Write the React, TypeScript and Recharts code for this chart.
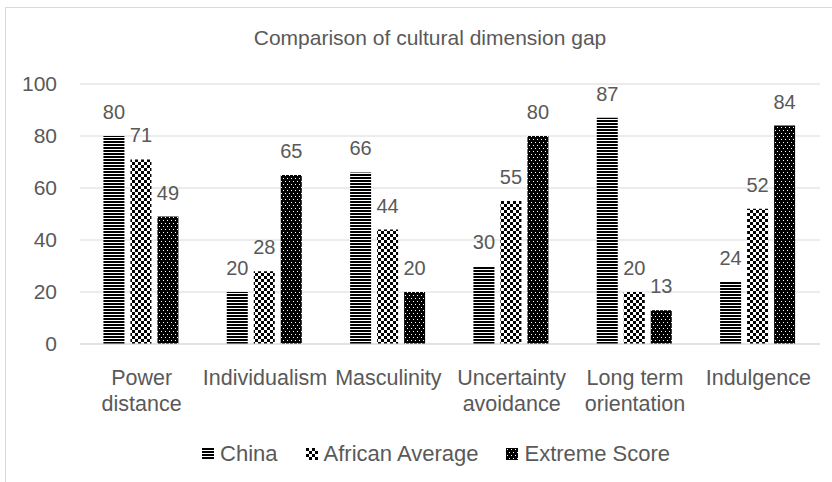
import React from 'react';
import { BarChart, Bar, XAxis, YAxis, CartesianGrid, LabelList } from 'recharts';

const categories = ['Power distance', 'Individualism', 'Masculinity', 'Uncertainty avoidance', 'Long term orientation', 'Indulgence'];
const tickLines = [['Power', 'distance'], ['Individualism'], ['Masculinity'], ['Uncertainty', 'avoidance'], ['Long term', 'orientation'], ['Indulgence']];
const china = [80, 20, 66, 30, 87, 24];
const africanAverage = [71, 28, 44, 55, 20, 52];
const extremeScore = [49, 65, 20, 80, 13, 84];
const yTicks = [0, 20, 40, 60, 80, 100];
const seriesNames = ['China', 'African Average', 'Extreme Score'];

const data = categories.map((name, i) => ({
  name,
  china: china[i],
  african: africanAverage[i],
  extreme: extremeScore[i],
}));

const TEXT = '#595959';
const GRID = '#d9d9d9';
const FONT = "'Liberation Sans', Arial, sans-serif";

const patternIds = ['pat-china', 'pat-african', 'pat-extreme'];

function CategoryTick(props: any) {
  const { x, y, payload } = props;
  const idx = categories.indexOf(payload.value);
  const lines = idx >= 0 ? tickLines[idx] : [payload.value];
  return (
    <text x={x} y={y + 41} textAnchor="middle" fill={TEXT} fontSize={21.5}>
      {lines.map((l, i) => (
        <tspan key={i} x={x} dy={i === 0 ? 0 : 26}>{l}</tspan>
      ))}
    </text>
  );
}

export default function App() {
  return (
    <div style={{ position: 'absolute', left: 0, top: 0, width: 832, height: 482, overflow: 'hidden', fontFamily: FONT, background: '#fff' }}>
      <div style={{ position: 'absolute', left: 5, top: 7, width: 900, height: 600, border: `1px solid ${GRID}` }} />
      <div style={{ position: 'absolute', left: 0, top: 26, width: 860, textAlign: 'center', fontSize: 21, color: TEXT }}>
        Comparison of cultural dimension gap
      </div>
      <div style={{ position: 'absolute', left: 0, top: 0 }}>
        <BarChart width={832} height={482} data={data} margin={{ top: 84, right: 12, left: 8, bottom: 68 }}
          barCategoryGap="19%" barGap={6}>
          <defs>
            <pattern id="pat-china" width={4} height={3} patternUnits="userSpaceOnUse">
              <rect x={0} y={0} width={4} height={3} fill="#fff" />
              <rect x={0} y={0} width={4} height={2} fill="#000" />
            </pattern>
            <pattern id="pat-african" width={6} height={6} patternUnits="userSpaceOnUse">
              <rect x={0} y={0} width={6} height={6} fill="#fff" />
              <rect x={0} y={0} width={3} height={3} fill="#000" />
              <rect x={3} y={3} width={3} height={3} fill="#000" />
            </pattern>
            <pattern id="pat-extreme" width={4} height={6} patternUnits="userSpaceOnUse">
              <rect x={0} y={0} width={4} height={6} fill="#000" />
              <rect x={1} y={1} width={1} height={1} fill="#fff" />
              <rect x={3} y={4} width={1} height={1} fill="#fff" />
            </pattern>
          </defs>
          <CartesianGrid vertical={false} stroke={GRID} />
          <XAxis dataKey="name" axisLine={{ stroke: GRID }} tickLine={false} tickSize={0} tickMargin={0}
            height={70} interval={0} tick={<CategoryTick />} />
          <YAxis domain={[0, 100]} ticks={yTicks} axisLine={false} tickLine={false} tickSize={0} tickMargin={23}
            width={72} tick={{ fill: TEXT, fontSize: 21 }} />
          <Bar dataKey="china" name={seriesNames[0]} fill="url(#pat-china)" isAnimationActive={false}>
            <LabelList dataKey="china" position="top" offset={17} fill={TEXT} fontSize={20} />
          </Bar>
          <Bar dataKey="african" name={seriesNames[1]} fill="url(#pat-african)" isAnimationActive={false}>
            <LabelList dataKey="african" position="top" offset={17} fill={TEXT} fontSize={20} />
          </Bar>
          <Bar dataKey="extreme" name={seriesNames[2]} fill="url(#pat-extreme)" isAnimationActive={false}>
            <LabelList dataKey="extreme" position="top" offset={17} fill={TEXT} fontSize={20} />
          </Bar>
        </BarChart>
      </div>
      <div style={{ position: 'absolute', left: 0, top: 441, width: 872, display: 'flex', justifyContent: 'center', gap: 28, fontSize: 22, color: TEXT }}>
        {seriesNames.map((n, i) => (
          <div key={n} style={{ display: 'flex', alignItems: 'center', gap: 6 }}>
            <svg width={12} height={12}>
              <rect width={12} height={12} fill={`url(#${patternIds[i]})`} />
            </svg>
            <span>{n}</span>
          </div>
        ))}
      </div>
    </div>
  );
}
